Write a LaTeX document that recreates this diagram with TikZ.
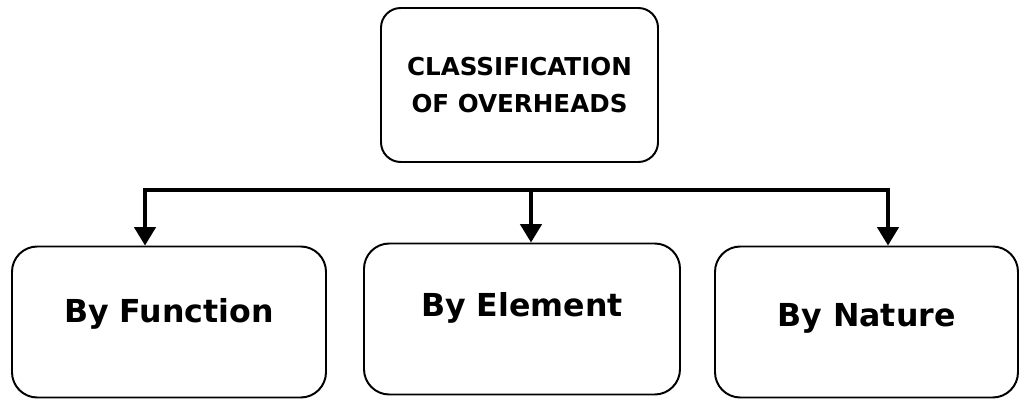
\documentclass[tikz,border=0pt]{standalone}
\usepackage{fontspec}
\setmainfont{DejaVu Sans}
\usetikzlibrary{arrows.meta}
\tikzset{
  box/.style={draw, line width=1.4pt, rounded corners=18pt, inner sep=0pt, font=\bfseries},
  topbox/.style={box, minimum width=277*0.025cm, minimum height=154*0.025cm, align=center,
    font=\bfseries\fontsize{17.5}{25.9}\selectfont, rounded corners=14pt},
  subbox/.style={box, minimum height=151*0.025cm, text height=16.4pt,
    font=\bfseries\fontsize{22.5}{26}\selectfont},
  arr/.style={line width=2.5pt, -{Triangle[length=13pt,width=15pt]}},
  bar/.style={line width=2.5pt, line cap=rect}
}
\begin{document}
\begin{tikzpicture}[x=0.025cm,y=-0.025cm]
\useasboundingbox (0,0) rectangle (1020,399);
% heading
\node[topbox] (top) at (519.5,85) {CLASSIFICATION\\OF OVERHEADS};
% the three kinds
\node[subbox, minimum width=314*0.025cm, text depth=15pt] (fn) at (169,322) {By Function};
\node[subbox, minimum width=316*0.025cm, text depth=20.5pt] (el) at (522,319) {By Element};
\node[subbox, minimum width=303*0.025cm, text depth=10pt] (nat) at (866.5,322) {By Nature};
% bar and arrows
\coordinate (barL) at (145,190);
\coordinate (barM) at (531,190);
\coordinate (barR) at (888,190);
\draw[bar] (barL) -- (barR);
\draw[arr] (barL) -- (barL |- fn.north);
\draw[arr] (barM) -- (barM |- el.north);
\draw[arr] (barR) -- (barR |- nat.north);
\end{tikzpicture}
\end{document}
